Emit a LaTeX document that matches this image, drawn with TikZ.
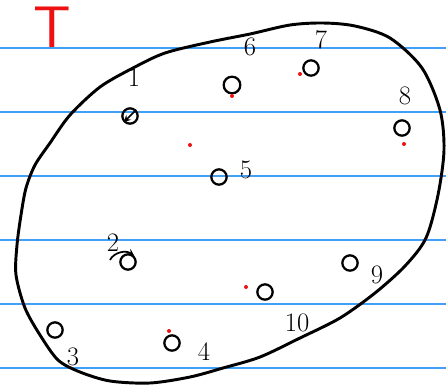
\documentclass[tikz,border=0pt]{standalone}
\usepackage{tikz}
\definecolor{ruleblue}{HTML}{3FA0F5}
\definecolor{inkred}{HTML}{EE1111}

\begin{document}
\begin{tikzpicture}[x=0.75pt,y=-0.75pt,>=stealth,
    hole/.style={draw,circle,line width=1.7pt,inner sep=0pt,minimum size=11.5pt},
    num/.style={font=\fontsize{20}{22}\selectfont}]
  \useasboundingbox[fill=white] (0,0) rectangle (446,390);
  % ruled paper
  \foreach \y in {48,112,...,368}
    \draw[ruleblue,line width=1pt] (0,\y) -- (446,\y);
  \node[inkred,font=\fontsize{44}{46}\sffamily] (title) at (52,27) {T};
  % the blob
  \draw[line width=2.2pt,line join=round] plot[smooth cycle,tension=0.5] coordinates {
    (165,53) (210,42) (250,34) (290,25) (323,23) (355,26) (390,38) (422,68)
    (440,110) (444,150) (438,195) (426,238) (405,266) (375,293) (340,318)
    (300,338) (260,357) (223,368) (190,377) (150,383) (110,381) (80,372)
    (58,360) (40,335) (25,308) (16,275) (17,245) (21,215) (26,188) (35,165)
    (50,143) (70,115) (100,87) (133,68)};
  % points
  \node[hole] (h1) at (130,116) {};
  \node[hole] (h2) at (128,262) {};
  \node[hole] (h3) at (55,330) {};
  \node[hole] (h4) at (172,343) {};
  \node[hole] (h5) at (219,177) {};
  \node[hole,minimum size=12.5pt] (h6) at (232,85) {};
  \node[hole] (h7) at (311,68) {};
  \node[hole] (h8) at (402,128) {};
  \node[hole] (h9) at (350,263) {};
  \node[hole] (h10) at (265,292) {};
  \draw[->,line width=1.3pt] (h1.north east) -- (h1.south west);
  \coordinate (tail2) at (110,260);
  \draw[->,line width=1.3pt] (tail2) .. controls (114,252) and (126,250) .. (h2.north east);
  % labels
  \node[num] (n1) at (134,78) {1};
  \node[num] (n2) at (113,243) {2};
  \node[num] (n3) at (73,357) {3};
  \node[num] (n4) at (204,352) {4};
  \node[num] (n5) at (246,170) {5};
  \node[num] (n6) at (250,47) {6};
  \node[num] (n7) at (321,40) {7};
  \node[num] (n8) at (405,96) {8};
  \node[num] (n9) at (377,275) {9};
  \node[num] (n10) at (297,323) {10};
  % red specks
  \foreach \p in {(190,145),(232,96),(300,74),(404,144),(246,287),(169,331)}
    \fill[inkred] \p circle (2);
\end{tikzpicture}
\end{document}
